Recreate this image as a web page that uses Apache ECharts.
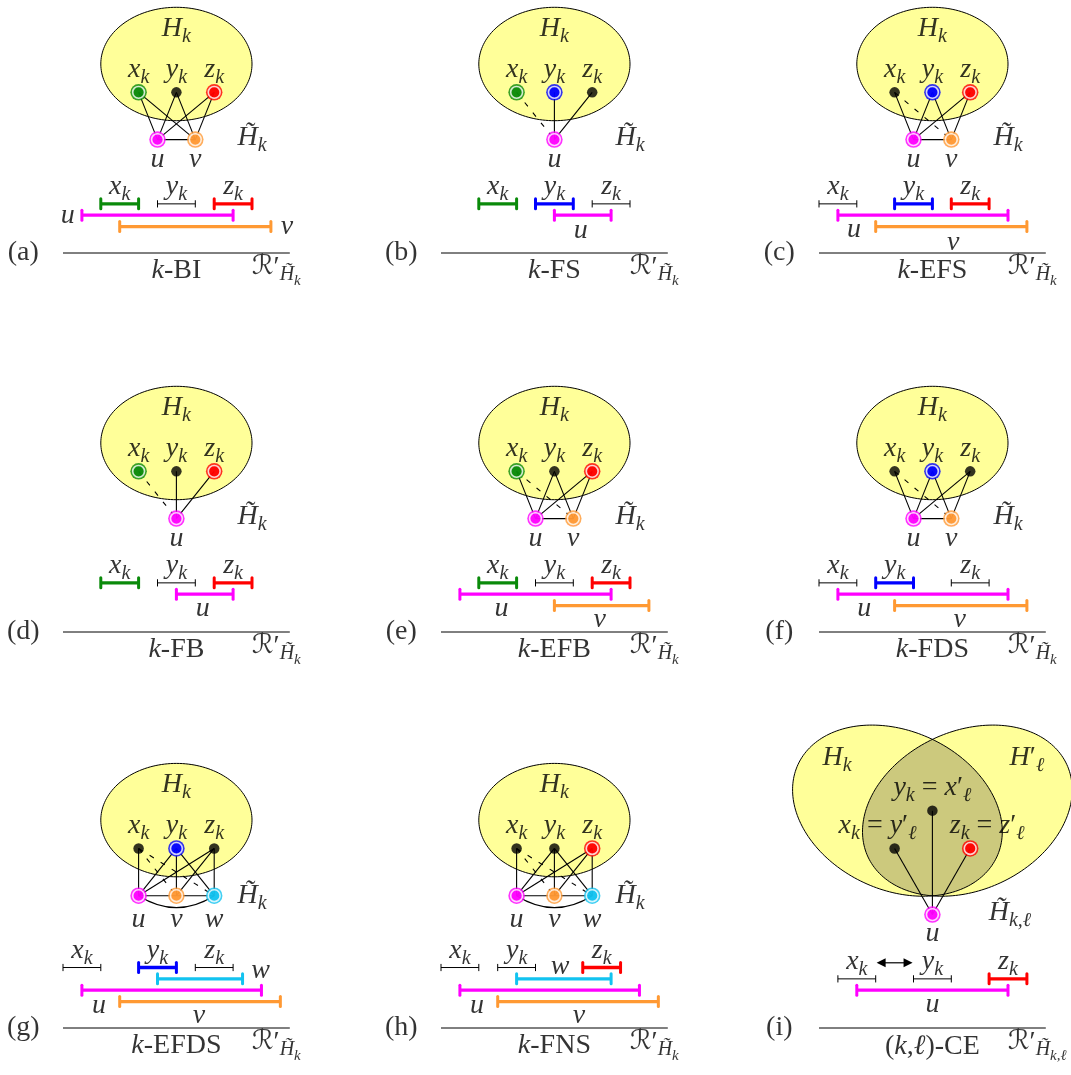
<!DOCTYPE html>
<html>
<head>
<meta charset="utf-8">
<script src="https://cdn.jsdelivr.net/npm/echarts@6/dist/echarts.min.js"></script>
<style>
  html, body { margin: 0; padding: 0; background: #fff; }
  #chart { width: 1071px; height: 1075px; }
</style>
</head>
<body>
<div id="chart"></div>
<script>
// ---------------------------------------------------------------------------
// Data: nine gadgets H~_k and their interval representations R'.
// Vertex positions and interval ends are in diagram units.
// ---------------------------------------------------------------------------
const panelTags = ['a', 'b', 'c', 'd', 'e', 'f', 'g', 'h', 'i'];
const panelClasses = ['BI', 'FS', 'EFS', 'FB', 'EFB', 'FDS', 'EFDS', 'FNS', 'CE'];
const baselineSpan = [0, 12];

// vertices: [name, x, y]
const verticesA = [['x', 4, 8.5], ['y', 6, 8.5], ['z', 8, 8.5], ['u', 5, 6], ['v', 7, 6]];
const verticesB = [['x', 4, 8.5], ['y', 6, 8.5], ['z', 8, 8.5], ['u', 6, 6]];
const verticesC = [['x', 4, 8.5], ['y', 6, 8.5], ['z', 8, 8.5], ['u', 5, 6], ['v', 7, 6]];
const verticesD = [['x', 4, 8.5], ['y', 6, 8.5], ['z', 8, 8.5], ['u', 6, 6]];
const verticesE = [['x', 4, 8.5], ['y', 6, 8.5], ['z', 8, 8.5], ['u', 5, 6], ['v', 7, 6]];
const verticesF = [['x', 4, 8.5], ['y', 6, 8.5], ['z', 8, 8.5], ['u', 5, 6], ['v', 7, 6]];
const verticesG = [['x', 4, 9.5], ['y', 6, 9.5], ['z', 8, 9.5], ['u', 4, 7], ['v', 6, 7], ['w', 8, 7]];
const verticesH = [['x', 4, 9.5], ['y', 6, 9.5], ['z', 8, 9.5], ['u', 4, 7], ['v', 6, 7], ['w', 8, 7]];
const verticesI = [['x', 4, 9.5], ['y', 6, 11.5], ['z', 8, 9.5], ['u', 6, 6]];

// edges: [from, to, kind]  s = solid, d = dashed, c = curved
const edgesA = [['x','u','s'], ['x','v','s'], ['y','u','s'], ['y','v','s'], ['z','u','s'], ['z','v','s'], ['u','v','s']];
const edgesB = [['x','u','d'], ['y','u','s'], ['z','u','s']];
const edgesC = [['x','u','s'], ['x','v','d'], ['y','u','s'], ['y','v','s'], ['z','u','s'], ['z','v','s'], ['u','v','s']];
const edgesD = [['x','u','d'], ['y','u','s'], ['z','u','s']];
const edgesE = [['x','u','s'], ['x','v','d'], ['y','u','s'], ['y','v','s'], ['z','u','s'], ['z','v','s'], ['u','v','s']];
const edgesF = [['x','u','s'], ['x','v','d'], ['y','u','s'], ['y','v','s'], ['z','u','s'], ['z','v','s'], ['u','v','s']];
const edgesG = [['x','u','s'], ['x','v','d'], ['x','w','d'], ['y','u','s'], ['y','v','s'], ['y','w','s'],
                ['z','u','s'], ['z','v','s'], ['z','w','s'], ['u','v','s'], ['v','w','s'], ['u','w','c']];
const edgesH = [['x','u','s'], ['x','v','d'], ['x','w','d'], ['y','u','s'], ['y','v','s'], ['y','w','s'],
                ['z','u','s'], ['z','v','s'], ['z','w','s'], ['u','v','s'], ['v','w','s'], ['u','w','c']];
const edgesI = [['x','u','s'], ['y','u','s'], ['z','u','s']];

// vertices drawn in colour (the others are plain black)
const colouredA = ['x', 'z', 'u', 'v'];
const colouredB = ['x', 'y', 'u'];
const colouredC = ['y', 'z', 'u', 'v'];
const colouredD = ['x', 'z', 'u'];
const colouredE = ['x', 'z', 'u', 'v'];
const colouredF = ['y', 'u', 'v'];
const colouredG = ['y', 'u', 'v', 'w'];
const colouredH = ['z', 'u', 'v', 'w'];
const colouredI = ['z', 'u'];

// intervals: [vertex, start, end, stacking row]
const intervalsA = [['x', 2, 4, 0], ['y', 5, 7, 0], ['z', 8, 10, 0], ['u', 1, 9, 1], ['v', 3, 11, 2]];
const intervalsB = [['x', 2, 4, 0], ['y', 5, 7, 0], ['z', 8, 10, 0], ['u', 6, 9, 1]];
const intervalsC = [['x', 0, 2, 0], ['y', 4, 6, 0], ['z', 7, 9, 0], ['u', 1, 10, 1], ['v', 3, 11, 2]];
const intervalsD = [['x', 2, 4, 0], ['y', 5, 7, 0], ['z', 8, 10, 0], ['u', 6, 9, 1]];
const intervalsE = [['x', 2, 4, 0], ['y', 5, 7, 0], ['z', 8, 10, 0], ['u', 1, 9, 1], ['v', 6, 11, 2]];
const intervalsF = [['x', 0, 2, 0], ['y', 3, 5, 0], ['z', 7, 9, 0], ['u', 1, 10, 1], ['v', 4, 11, 2]];
const intervalsG = [['x', 0, 2, 0], ['y', 4, 6, 0], ['z', 7, 9, 0], ['w', 5, 9.5, 1], ['u', 1, 10.5, 2], ['v', 3, 11.5, 3]];
const intervalsH = [['x', 0, 2, 0], ['y', 3, 5, 0], ['z', 7.5, 9.5, 0], ['w', 4, 9, 1], ['u', 1, 10.5, 2], ['v', 3, 11.5, 3]];
const intervalsI = [['x', 1, 3, 0], ['y', 5, 7, 0], ['z', 9, 11, 0], ['u', 2, 10, 1]];

const panels = [
  { vertices: verticesA, edges: edgesA, coloured: colouredA, intervals: intervalsA },
  { vertices: verticesB, edges: edgesB, coloured: colouredB, intervals: intervalsB },
  { vertices: verticesC, edges: edgesC, coloured: colouredC, intervals: intervalsC },
  { vertices: verticesD, edges: edgesD, coloured: colouredD, intervals: intervalsD },
  { vertices: verticesE, edges: edgesE, coloured: colouredE, intervals: intervalsE },
  { vertices: verticesF, edges: edgesF, coloured: colouredF, intervals: intervalsF },
  { vertices: verticesG, edges: edgesG, coloured: colouredG, intervals: intervalsG },
  { vertices: verticesH, edges: edgesH, coloured: colouredH, intervals: intervalsH },
  { vertices: verticesI, edges: edgesI, coloured: colouredI, intervals: intervalsI }
];

// ---------------------------------------------------------------------------
// Layout and styling
// ---------------------------------------------------------------------------
const UNIT = 18.9;                       // pixels per diagram unit (both axes)
const ORIGINS = [[63, 253], [441, 253], [819, 253],
                 [63, 632], [441, 632], [819, 632],
                 [63, 1028], [441, 1028], [819, 1028]];   // left end of each baseline
const ROW_GAP = 0.6;
const LAYOUT = [
  { top: 2.6, region: [6, 10], hk: [6, 11.85], ht: [10, 6.1], under: 1.06, lab: { u: [0.25, 2.0], v: [11.85, 1.4] } },
  { top: 2.6, region: [6, 10], hk: [6, 11.85], ht: [10, 6.1], under: 1.06, lab: { u: [7.4, 1.2] } },
  { top: 2.6, region: [6, 10], hk: [6, 11.85], ht: [10, 6.1], under: 1.06, lab: { u: [1.85, 1.25], v: [7.1, 0.55] } },
  { top: 2.6, region: [6, 10], hk: [6, 11.85], ht: [10, 6.1], under: 1.06, lab: { u: [7.4, 1.25] } },
  { top: 2.6, region: [6, 10], hk: [6, 11.85], ht: [10, 6.1], under: 1.06, lab: { u: [3.2, 1.25], v: [8.4, 0.65] } },
  { top: 2.6, region: [6, 10], hk: [6, 11.85], ht: [10, 6.1], under: 1.06, lab: { u: [2.4, 1.25], v: [7.45, 0.65] } },
  { top: 3.2, region: [6, 11], hk: [6, 12.85], ht: [10, 7.0], under: 1.27, lab: { u: [1.9, 1.2], v: [7.2, 0.65], w: [10.45, 3.05] } },
  { top: 3.2, region: [6, 11], hk: [6, 12.85], ht: [10, 7.0], under: 1.27, lab: { u: [1.9, 1.2], v: [7.3, 0.65], w: [6.3, 3.25] } },
  { top: 2.6, region: [6, 11.5], venn: true, under: 1.0, lab: { u: [6, 1.25] }, arrow: [3.05, 4.95, 3.45] }
];
const REGION_R = [4, 3];
const VENN = { dx: 1.85, rx: 5.8, ry: 4.2, tilt: 25 * Math.PI / 180 };
const ARC_SAG = 0.63;

const COLOR = { x: '#0a8a0a', y: '#0000ff', z: '#ff0000', u: '#ff00ff', v: '#ff9933', w: '#12c3f0' };
const YELLOW = '#ffff99';
const OLIVE = '#ccc97d';
const SERIF = '"Liberation Serif", "Times New Roman", serif';
const SCRIPT = '"DejaVu Serif", "DejaVu Sans", serif';
const RICH = {
  i:  { fontFamily: SERIF, fontStyle: 'italic', fontSize: 28, lineHeight: 34, color: '#000' },
  r:  { fontFamily: SERIF, fontSize: 28, lineHeight: 34, color: '#000' },
  s:  { fontFamily: SERIF, fontStyle: 'italic', fontSize: 20, lineHeight: 34, padding: [16, 0, 0, 0], color: '#000' },
  ss: { fontFamily: SERIF, fontStyle: 'italic', fontSize: 15, lineHeight: 34, padding: [27, 0, 0, 0], color: '#000' },
  R:  { fontFamily: SCRIPT, fontSize: 27, lineHeight: 34, color: '#000' }
};

const TILDE_H = 'H\u0303';
const sub = (v, s) => `{i|${v}}{s|${s}}`;

// ---------------------------------------------------------------------------
// Geometry helpers (diagram units)
// ---------------------------------------------------------------------------
function ellipsePts(e, t0, t1, n) {
  const [cx, cy, rx, ry, rot] = e, c = Math.cos(rot), s = Math.sin(rot), pts = [];
  for (let k = 0; k <= n; k++) {
    const t = t0 + (t1 - t0) * k / n, ex = rx * Math.cos(t), ey = ry * Math.sin(t);
    pts.push([cx + ex * c - ey * s, cy + ex * s + ey * c]);
  }
  return pts;
}
function insideEllipse(p, e) {
  const [cx, cy, rx, ry, rot] = e, dx = p[0] - cx, dy = p[1] - cy;
  const c = Math.cos(rot), s = Math.sin(rot);
  const lx = dx * c + dy * s, ly = -dx * s + dy * c;
  return (lx * lx) / (rx * rx) + (ly * ly) / (ry * ry) <= 1;
}

// ---------------------------------------------------------------------------
// Build one grid per panel
// ---------------------------------------------------------------------------
const grids = [], xAxes = [], yAxes = [], series = [];

panels.forEach((p, idx) => {
  const L = LAYOUT[idx];
  const [ox, oy] = ORIGINS[idx];
  const ymax = Math.min(16, oy / UNIT - 0.1);
  grids.push({ left: ox - 3 * UNIT, top: oy - ymax * UNIT, width: 16 * UNIT, height: (ymax + 2) * UNIT });
  xAxes.push({ gridIndex: idx, type: 'value', min: -3, max: 13, show: false });
  yAxes.push({ gridIndex: idx, type: 'value', min: -2, max: ymax, show: false });
  const ax = { xAxisIndex: idx, yAxisIndex: idx };

  const pos = {};
  p.vertices.forEach(v => { pos[v[0]] = [v[1], v[2]]; });
  const isCol = n => p.coloured.includes(n);

  // H_k region (or the overlapping pair H_k, H'_l)
  series.push({
    type: 'custom', ...ax, clip: false, silent: true, z: 1,
    data: [L.region],
    renderItem(prm, api) {
      const cx = api.value(0), cy = api.value(1);
      const px = pts => pts.map(q => api.coord(q));
      if (!L.venn) {
        const e = [cx, cy, REGION_R[0], REGION_R[1], 0];
        return { type: 'polygon', shape: { points: px(ellipsePts(e, 0, 2 * Math.PI, 160)) },
                 style: { fill: YELLOW, stroke: '#000', lineWidth: 1 } };
      }
      const eL = [cx - VENN.dx, cy, VENN.rx, VENN.ry, -VENN.tilt];
      const eR = [cx + VENN.dx, cy, VENN.rx, VENN.ry, VENN.tilt];
      const fullL = px(ellipsePts(eL, 0, 2 * Math.PI, 200));
      const fullR = px(ellipsePts(eR, 0, 2 * Math.PI, 200));
      const arcL = ellipsePts(eL, -Math.PI, Math.PI, 600).filter(q => insideEllipse(q, eR));
      const arcR = ellipsePts(eR, 0, 2 * Math.PI, 600).filter(q => insideEllipse(q, eL));
      return {
        type: 'group', children: [
          { type: 'polygon', shape: { points: fullL }, style: { fill: YELLOW } },
          { type: 'polygon', shape: { points: fullR }, style: { fill: YELLOW } },
          { type: 'polygon', shape: { points: px(arcL.concat(arcR)) }, style: { fill: OLIVE } },
          { type: 'polygon', shape: { points: fullL }, style: { fill: null, stroke: '#000', lineWidth: 1 } },
          { type: 'polygon', shape: { points: fullR }, style: { fill: null, stroke: '#000', lineWidth: 1 } }
        ]
      };
    }
  });

  // edges of the gadget
  const edgeData = p.edges.map(e => [pos[e[0]][0], pos[e[0]][1], pos[e[1]][0], pos[e[1]][1], e[2] === 'd' ? 1 : (e[2] === 'c' ? 2 : 0)]);
  series.push({
    type: 'custom', ...ax, clip: false, silent: true, z: 2,
    data: edgeData,
    renderItem(prm, api) {
      const a = api.coord([api.value(0), api.value(1)]);
      const b = api.coord([api.value(2), api.value(3)]);
      const kind = api.value(4);
      if (kind === 2) {
        const c = api.coord([(api.value(0) + api.value(2)) / 2, api.value(1) - 2 * ARC_SAG]);
        return { type: 'bezierCurve', shape: { x1: a[0], y1: a[1], x2: b[0], y2: b[1], cpx1: c[0], cpy1: c[1] },
                 style: { fill: null, stroke: '#000', lineWidth: 1.1 } };
      }
      return { type: 'line', shape: { x1: a[0], y1: a[1], x2: b[0], y2: b[1] },
               style: { stroke: '#000', lineWidth: 1.1, lineDash: kind === 1 ? [5, 8] : null } };
    }
  });

  // vertices: coloured ones get a ring, black ones a small dot
  series.push({
    type: 'scatter', ...ax, clip: false, silent: true, z: 3, symbol: 'circle', symbolSize: 16.5,
    data: p.vertices.filter(v => isCol(v[0])).map(v => ({ value: [v[1], v[2]], itemStyle: { color: COLOR[v[0]] } }))
  });
  series.push({
    type: 'scatter', ...ax, clip: false, silent: true, z: 4, symbol: 'circle',
    data: p.vertices.map(v => isCol(v[0])
      ? { value: [v[1], v[2]], symbolSize: 11.8, itemStyle: { color: COLOR[v[0]], borderColor: '#fff', borderWidth: 1.6 } }
      : { value: [v[1], v[2]], symbolSize: 10.5, itemStyle: { color: '#000', borderWidth: 0 } })
  });

  // intervals of the representation
  const ivData = p.intervals.map(iv => [iv[1], iv[2], L.top - ROW_GAP * iv[3]]);
  series.push({
    type: 'custom', ...ax, clip: false, silent: true, z: 2,
    data: ivData,
    renderItem(prm, api) {
      const iv = p.intervals[prm.dataIndex];
      const col = isCol(iv[0]);
      const a = api.coord([api.value(0), api.value(2)]);
      const b = api.coord([api.value(1), api.value(2)]);
      const stroke = col ? COLOR[iv[0]] : '#000';
      const lw = col ? 3.3 : 1;
      const h = col ? 5 : 3.6;
      const cap = x => ({ type: 'line', shape: { x1: x, y1: a[1] - h, x2: x, y2: a[1] + h },
                          style: { stroke, lineWidth: col ? 3 : 1, lineCap: col ? 'round' : 'butt' } });
      return { type: 'group', children: [
        { type: 'line', shape: { x1: a[0], y1: a[1], x2: b[0], y2: b[1] }, style: { stroke, lineWidth: lw } },
        cap(a[0]), cap(b[0])
      ] };
    }
  });

  // baseline of the representation
  series.push({
    type: 'custom', ...ax, clip: false, silent: true, z: 2,
    data: [baselineSpan],
    renderItem(prm, api) {
      const a = api.coord([api.value(0), 0]), b = api.coord([api.value(1), 0]);
      return { type: 'line', shape: { x1: a[0], y1: a[1], x2: b[0], y2: b[1] }, style: { stroke: '#000', lineWidth: 1 } };
    }
  });

  // double arrow between x_k and y_k (panel i)
  if (L.arrow) {
    series.push({
      type: 'custom', ...ax, clip: false, silent: true, z: 2,
      data: [L.arrow],
      renderItem(prm, api) {
        const a = api.coord([api.value(0), api.value(2)]), b = api.coord([api.value(1), api.value(2)]);
        const hl = 9, hw = 4.5;
        return { type: 'group', children: [
          { type: 'line', shape: { x1: a[0] + hl - 1, y1: a[1], x2: b[0] - hl + 1, y2: b[1] }, style: { stroke: '#000', lineWidth: 1.2 } },
          { type: 'polygon', shape: { points: [[a[0], a[1]], [a[0] + hl, a[1] - hw], [a[0] + hl, a[1] + hw]] }, style: { fill: '#000' } },
          { type: 'polygon', shape: { points: [[b[0], b[1]], [b[0] - hl, b[1] - hw], [b[0] - hl, b[1] + hw]] }, style: { fill: '#000' } }
        ] };
      }
    });
  }

  // text labels
  const labels = [];
  const add = (x, y, text, align) => labels.push({ value: [x, y], text, align: align || 'center' });
  const tops = ['x', 'y', 'z'];
  if (L.venn) {
    add(0.95, 14.3, sub('H', 'k'));
    add(11, 14.3, '{i|H}{r|′}{s|ℓ}');
    add(10.1, 6.1, sub(TILDE_H, 'k,ℓ'));
    add(6, 12.7, sub('y', 'k') + '{r| = }{i|x}{r|′}{s|ℓ}');
    add(3.1, 10.7, sub('x', 'k') + '{r| = }{i|y}{r|′}{s|ℓ}');
    add(8.9, 10.7, sub('z', 'k') + '{r| = }{i|z}{r|′}{s|ℓ}');
  } else {
    add(L.hk[0], L.hk[1], sub('H', 'k'));
    add(L.ht[0], L.ht[1], sub(TILDE_H, 'k'));
    p.vertices.forEach(v => { if (tops.includes(v[0])) add(v[1], v[2] + 1.2, sub(v[0], 'k')); });
  }
  p.vertices.forEach(v => { if (!tops.includes(v[0])) add(v[1], v[2] - L.under, `{i|${v[0]}}`); });
  p.intervals.forEach(iv => {
    if (tops.includes(iv[0])) add((iv[1] + iv[2]) / 2, L.top + 0.9, sub(iv[0], 'k'));
    else add(L.lab[iv[0]][0], L.lab[iv[0]][1], `{i|${iv[0]}}`);
  });
  add(-2.1, 0, `{r|(${panelTags[idx]})}`);
  if (L.venn) {
    add(6, -1.0, `{r|(}{i|k}{r|,}{i|ℓ}{r|)-${panelClasses[idx]}}`);
    add(10.0, -0.75, `{R|ℛ}{r|′}{s|${TILDE_H}}{ss|k,ℓ}`, 'left');
  } else {
    add(6, -0.95, `{i|k}{r|-${panelClasses[idx]}}`);
    add(10.0, -0.75, `{R|ℛ}{r|′}{s|${TILDE_H}}{ss|k}`, 'left');
  }
  series.push({
    type: 'scatter', ...ax, clip: false, silent: true, z: 5, symbol: 'circle', symbolSize: 0,
    itemStyle: { color: 'rgba(0,0,0,0)' },
    data: labels.map(l => ({ value: l.value, label: { align: l.align } })),
    label: {
      show: true, position: 'inside', color: '#000',
      formatter: prm => labels[prm.dataIndex].text,
      rich: RICH
    }
  });
});

const chart = echarts.init(document.getElementById('chart'), null, { renderer: 'canvas' });
chart.setOption({ animation: false, grid: grids, xAxis: xAxes, yAxis: yAxes, series });
</script>
</body>
</html>
